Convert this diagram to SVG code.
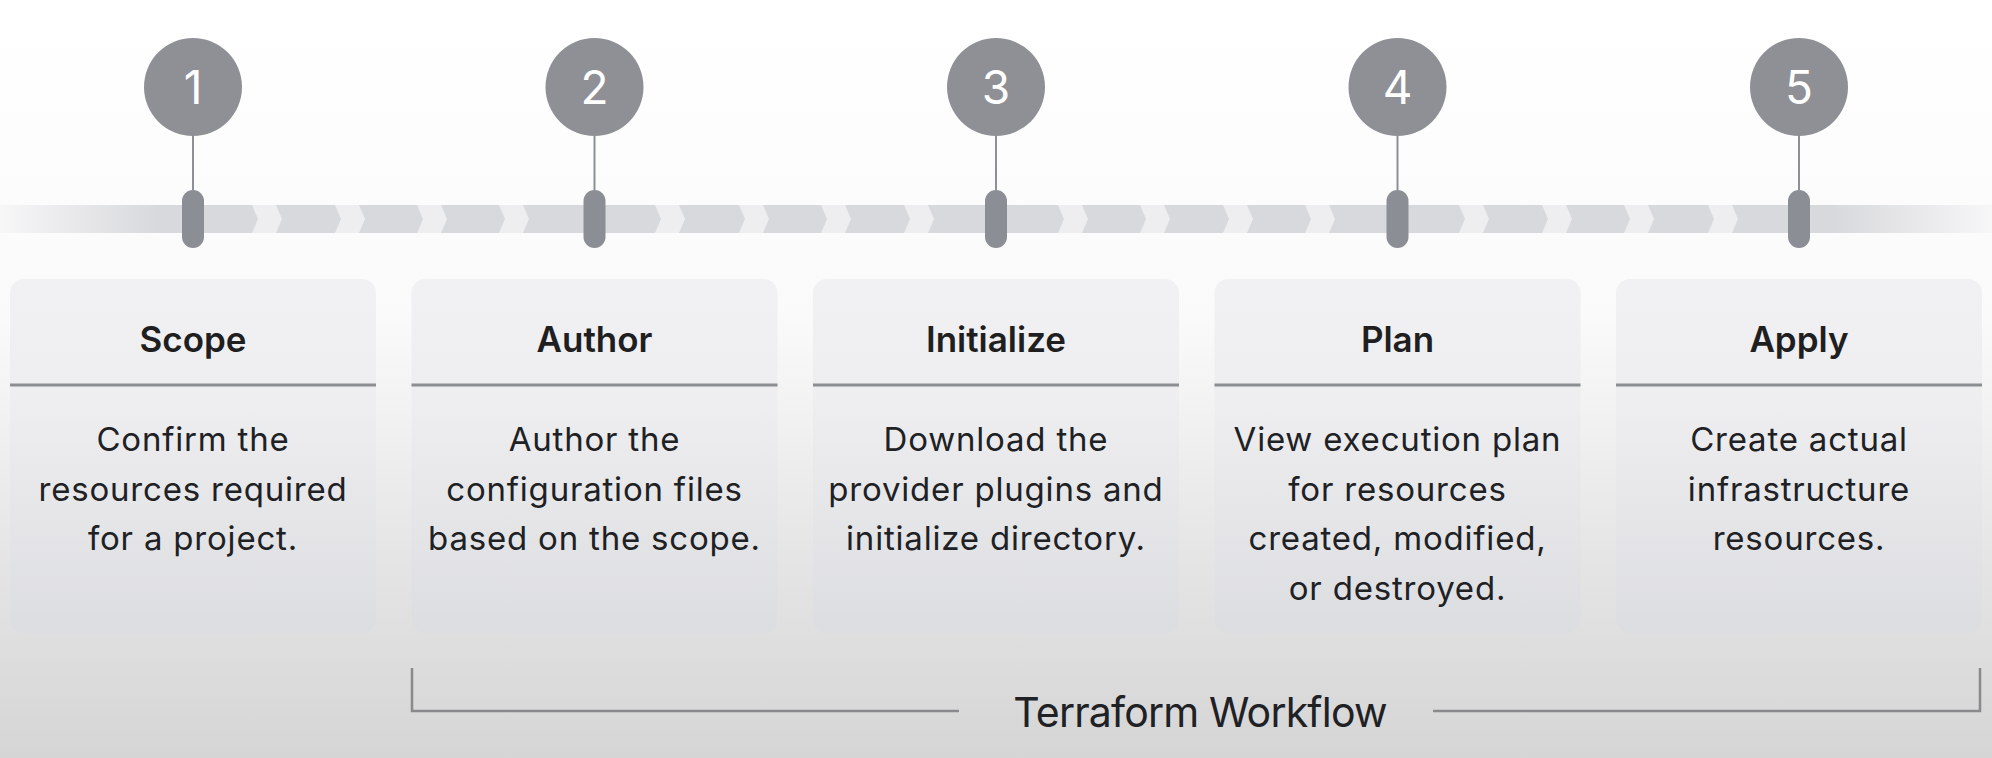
<svg xmlns="http://www.w3.org/2000/svg" width="1992" height="758" viewBox="0 0 1992 758">
<defs>
<linearGradient id="bg" x1="0" y1="0" x2="0" y2="758" gradientUnits="userSpaceOnUse">
<stop offset="0" stop-color="#ffffff"/>
<stop offset="0.42" stop-color="#fafafa"/>
<stop offset="0.72" stop-color="#e6e6e7"/>
<stop offset="1" stop-color="#d5d5d6"/>
</linearGradient>
<linearGradient id="cardg" x1="0" y1="0" x2="0" y2="1">
<stop offset="0" stop-color="#f1f1f3"/>
<stop offset="0.35" stop-color="#eeeef0"/>
<stop offset="1" stop-color="#dcdde0"/>
</linearGradient>
<linearGradient id="band" x1="0" y1="0" x2="1992" y2="0" gradientUnits="userSpaceOnUse">
<stop offset="0" stop-color="#f7f7f8"/>
<stop offset="0.08" stop-color="#d8d9dc"/>
<stop offset="0.92" stop-color="#d8d9dc"/>
<stop offset="1" stop-color="#f7f7f8"/>
</linearGradient>
<path id="chev" d="M0,205 H24 L30,219 L24,233 H0 L6,219 Z"/>
</defs>
<style>
.card{fill:url(#cardg)}
.div{stroke:#8c8d91;stroke-width:3}
.title{font-family:Inter,"Open Sans",sans-serif;font-weight:600;font-size:35px;fill:#1f1f21;text-anchor:middle}
.body{font-family:Inter,"Open Sans",sans-serif;font-weight:400;font-size:33px;letter-spacing:0.8px;fill:#202124;text-anchor:middle}
.num{font-family:Inter,"Open Sans",sans-serif;font-weight:400;font-size:46px;fill:#ffffff;text-anchor:middle}
.circ{fill:#8e9096}
.pill{fill:#8b8e94}
.stem{stroke:#8e9096;stroke-width:2}
.chev{fill:#eeeef1}
.brk{fill:none;stroke:#8a8a8c;stroke-width:2.5}
.wf{font-family:Inter,"Open Sans",sans-serif;font-weight:400;font-size:41px;letter-spacing:-0.8px;fill:#202124;text-anchor:middle}
</style>
<rect width="1992" height="758" fill="url(#bg)"/>
<g id="timeline">
<rect x="0" y="205" width="1992" height="28" fill="url(#band)"/>
<g class="chev">
<use href="#chev" x="252"/><use href="#chev" x="335"/><use href="#chev" x="417"/><use href="#chev" x="499"/>
<use href="#chev" x="655"/><use href="#chev" x="739"/><use href="#chev" x="821"/><use href="#chev" x="904"/>
<use href="#chev" x="1058"/><use href="#chev" x="1140"/><use href="#chev" x="1223"/><use href="#chev" x="1305"/>
<use href="#chev" x="1459"/><use href="#chev" x="1542"/><use href="#chev" x="1624"/><use href="#chev" x="1708"/>
</g>
</g>
<g id="connectors">
<line class="stem" x1="193" y1="136" x2="193" y2="190"/>
<line class="stem" x1="594.5" y1="136" x2="594.5" y2="190"/>
<line class="stem" x1="996" y1="136" x2="996" y2="190"/>
<line class="stem" x1="1397.5" y1="136" x2="1397.5" y2="190"/>
<line class="stem" x1="1799" y1="136" x2="1799" y2="190"/>
</g>
<g id="step1">
<circle class="circ" cx="193" cy="87" r="49"/>
<text class="num" x="193" y="104">1</text>
<rect class="pill" x="182" y="190" width="22" height="58" rx="11"/>
<rect class="card" x="10" y="279" width="366" height="354" rx="14"/>
<line class="div" x1="10" y1="385" x2="376" y2="385"/>
<text class="title" x="193" y="352">Scope</text>
<text class="body" x="193" y="451">Confirm the</text>
<text class="body" x="193" y="500.5">resources required</text>
<text class="body" x="193" y="550">for a project.</text>
</g>
<g id="step2">
<circle class="circ" cx="594.5" cy="87" r="49"/>
<text class="num" x="594.5" y="104">2</text>
<rect class="pill" x="583.5" y="190" width="22" height="58" rx="11"/>
<rect class="card" x="411.5" y="279" width="366" height="354" rx="14"/>
<line class="div" x1="411.5" y1="385" x2="777.5" y2="385"/>
<text class="title" x="594.5" y="352">Author</text>
<text class="body" x="594.5" y="451">Author the</text>
<text class="body" x="594.5" y="500.5">configuration files</text>
<text class="body" x="594.5" y="550">based on the scope.</text>
</g>
<g id="step3">
<circle class="circ" cx="996" cy="87" r="49"/>
<text class="num" x="996" y="104">3</text>
<rect class="pill" x="985" y="190" width="22" height="58" rx="11"/>
<rect class="card" x="813" y="279" width="366" height="354" rx="14"/>
<line class="div" x1="813" y1="385" x2="1179" y2="385"/>
<text class="title" x="996" y="352">Initialize</text>
<text class="body" x="996" y="451">Download the</text>
<text class="body" x="996" y="500.5">provider plugins and</text>
<text class="body" x="996" y="550">initialize directory.</text>
</g>
<g id="step4">
<circle class="circ" cx="1397.5" cy="87" r="49"/>
<text class="num" x="1397.5" y="104">4</text>
<rect class="pill" x="1386.5" y="190" width="22" height="58" rx="11"/>
<rect class="card" x="1214.5" y="279" width="366" height="354" rx="14"/>
<line class="div" x1="1214.5" y1="385" x2="1580.5" y2="385"/>
<text class="title" x="1397.5" y="352">Plan</text>
<text class="body" x="1397.5" y="451">View execution plan</text>
<text class="body" x="1397.5" y="500.5">for resources</text>
<text class="body" x="1397.5" y="550">created, modified,</text>
<text class="body" x="1397.5" y="599.5">or destroyed.</text>
</g>
<g id="step5">
<circle class="circ" cx="1799" cy="87" r="49"/>
<text class="num" x="1799" y="104">5</text>
<rect class="pill" x="1788" y="190" width="22" height="58" rx="11"/>
<rect class="card" x="1616" y="279" width="366" height="354" rx="14"/>
<line class="div" x1="1616" y1="385" x2="1982" y2="385"/>
<text class="title" x="1799" y="352">Apply</text>
<text class="body" x="1799" y="451">Create actual</text>
<text class="body" x="1799" y="500.5">infrastructure</text>
<text class="body" x="1799" y="550">resources.</text>
</g>
<g id="workflow">
<path class="brk" d="M412,668 V711 H959 M1433,711 H1980 V668"/>
<text class="wf" x="1200" y="727">Terraform Workflow</text>
</g>
</svg>
